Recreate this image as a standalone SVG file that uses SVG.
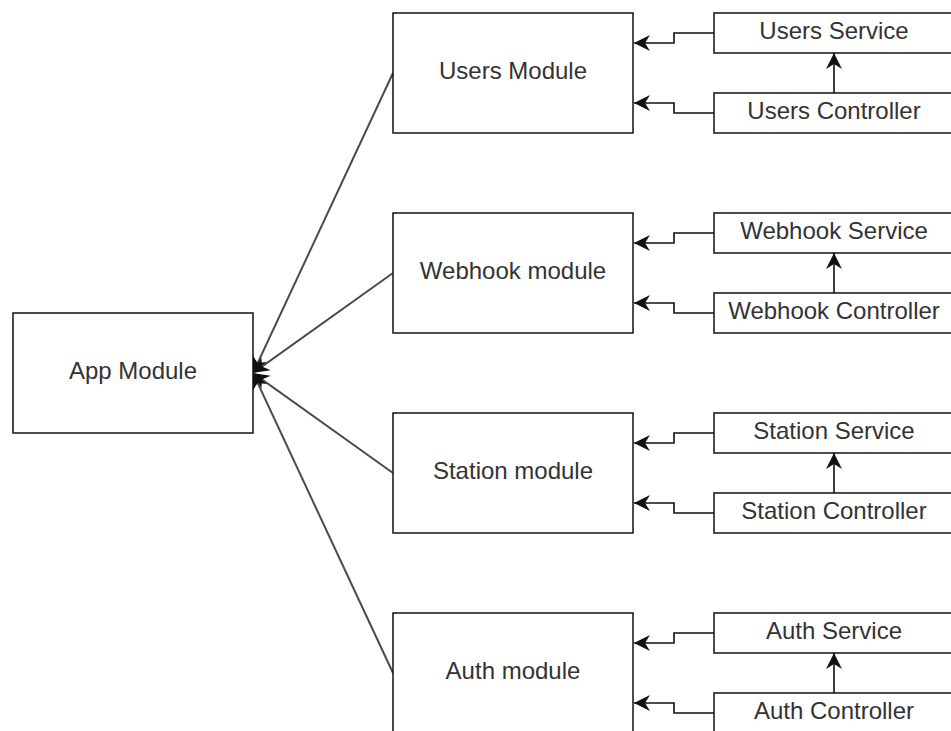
<svg xmlns="http://www.w3.org/2000/svg" width="951" height="731" viewBox="0 0 951 731">
  <style>
    .box { fill: #ffffff; stroke: #111111; stroke-width: 1.5; }
    .label { font-family: "Liberation Sans", Arial, sans-serif; font-size: 24px; fill: #333333; text-anchor: middle; }
    .wire { fill: none; stroke: #111111; stroke-width: 1.6; }
    .spoke { fill: none; stroke: #4a4a4a; stroke-width: 2; }
  </style>
  <defs>
    <marker id="head" markerUnits="userSpaceOnUse" viewBox="-17 -9 18 18" refX="0" refY="0" markerWidth="18" markerHeight="18" orient="auto">
      <path d="M0,0 L-16,-8 L-11,0 L-16,8 Z" fill="#111111"/>
    </marker>
  </defs>
  <rect width="951" height="731" fill="#ffffff"/>

  <!-- connectors -->
  <g id="connectors">
    <!-- feature modules into the app module -->
    <path class="spoke" d="M393,73 L253,373" marker-end="url(#head)"/>
    <path class="spoke" d="M393,273 L253,373" marker-end="url(#head)"/>
    <path class="spoke" d="M393,473 L253,373" marker-end="url(#head)"/>
    <path class="spoke" d="M393,673 L253,373" marker-end="url(#head)"/>

    <!-- users -->
    <path class="wire" d="M714,33 H674 V43 H634" marker-end="url(#head)"/>
    <path class="wire" d="M714,113 H674 V103 H634" marker-end="url(#head)"/>
    <path class="wire" d="M834,93 V53" marker-end="url(#head)"/>
    <!-- webhook -->
    <path class="wire" d="M714,233 H674 V243 H634" marker-end="url(#head)"/>
    <path class="wire" d="M714,313 H674 V303 H634" marker-end="url(#head)"/>
    <path class="wire" d="M834,293 V253" marker-end="url(#head)"/>
    <!-- station -->
    <path class="wire" d="M714,433 H674 V443 H634" marker-end="url(#head)"/>
    <path class="wire" d="M714,513 H674 V503 H634" marker-end="url(#head)"/>
    <path class="wire" d="M834,493 V453" marker-end="url(#head)"/>
    <!-- auth -->
    <path class="wire" d="M714,633 H674 V643 H634" marker-end="url(#head)"/>
    <path class="wire" d="M714,713 H674 V703 H634" marker-end="url(#head)"/>
    <path class="wire" d="M834,693 V653" marker-end="url(#head)"/>
  </g>

  <g id="app-module">
    <rect class="box" x="13" y="313" width="240" height="120"/>
    <text class="label" x="133" y="379">App Module</text>
  </g>

  <g id="users-module">
    <rect class="box" x="393" y="13" width="240" height="120"/>
    <text class="label" x="513" y="79">Users Module</text>
  </g>
  <g id="users-service">
    <rect class="box" x="714" y="13" width="240" height="40"/>
    <text class="label" x="834" y="39">Users Service</text>
  </g>
  <g id="users-controller">
    <rect class="box" x="714" y="93" width="240" height="40"/>
    <text class="label" x="834" y="119">Users Controller</text>
  </g>

  <g id="webhook-module">
    <rect class="box" x="393" y="213" width="240" height="120"/>
    <text class="label" x="513" y="279">Webhook module</text>
  </g>
  <g id="webhook-service">
    <rect class="box" x="714" y="213" width="240" height="40"/>
    <text class="label" x="834" y="239">Webhook Service</text>
  </g>
  <g id="webhook-controller">
    <rect class="box" x="714" y="293" width="240" height="40"/>
    <text class="label" x="834" y="319">Webhook Controller</text>
  </g>

  <g id="station-module">
    <rect class="box" x="393" y="413" width="240" height="120"/>
    <text class="label" x="513" y="479">Station module</text>
  </g>
  <g id="station-service">
    <rect class="box" x="714" y="413" width="240" height="40"/>
    <text class="label" x="834" y="439">Station Service</text>
  </g>
  <g id="station-controller">
    <rect class="box" x="714" y="493" width="240" height="40"/>
    <text class="label" x="834" y="519">Station Controller</text>
  </g>

  <g id="auth-module">
    <rect class="box" x="393" y="613" width="240" height="120"/>
    <text class="label" x="513" y="679">Auth module</text>
  </g>
  <g id="auth-service">
    <rect class="box" x="714" y="613" width="240" height="40"/>
    <text class="label" x="834" y="639">Auth Service</text>
  </g>
  <g id="auth-controller">
    <rect class="box" x="714" y="693" width="240" height="40"/>
    <text class="label" x="834" y="719">Auth Controller</text>
  </g>
</svg>
